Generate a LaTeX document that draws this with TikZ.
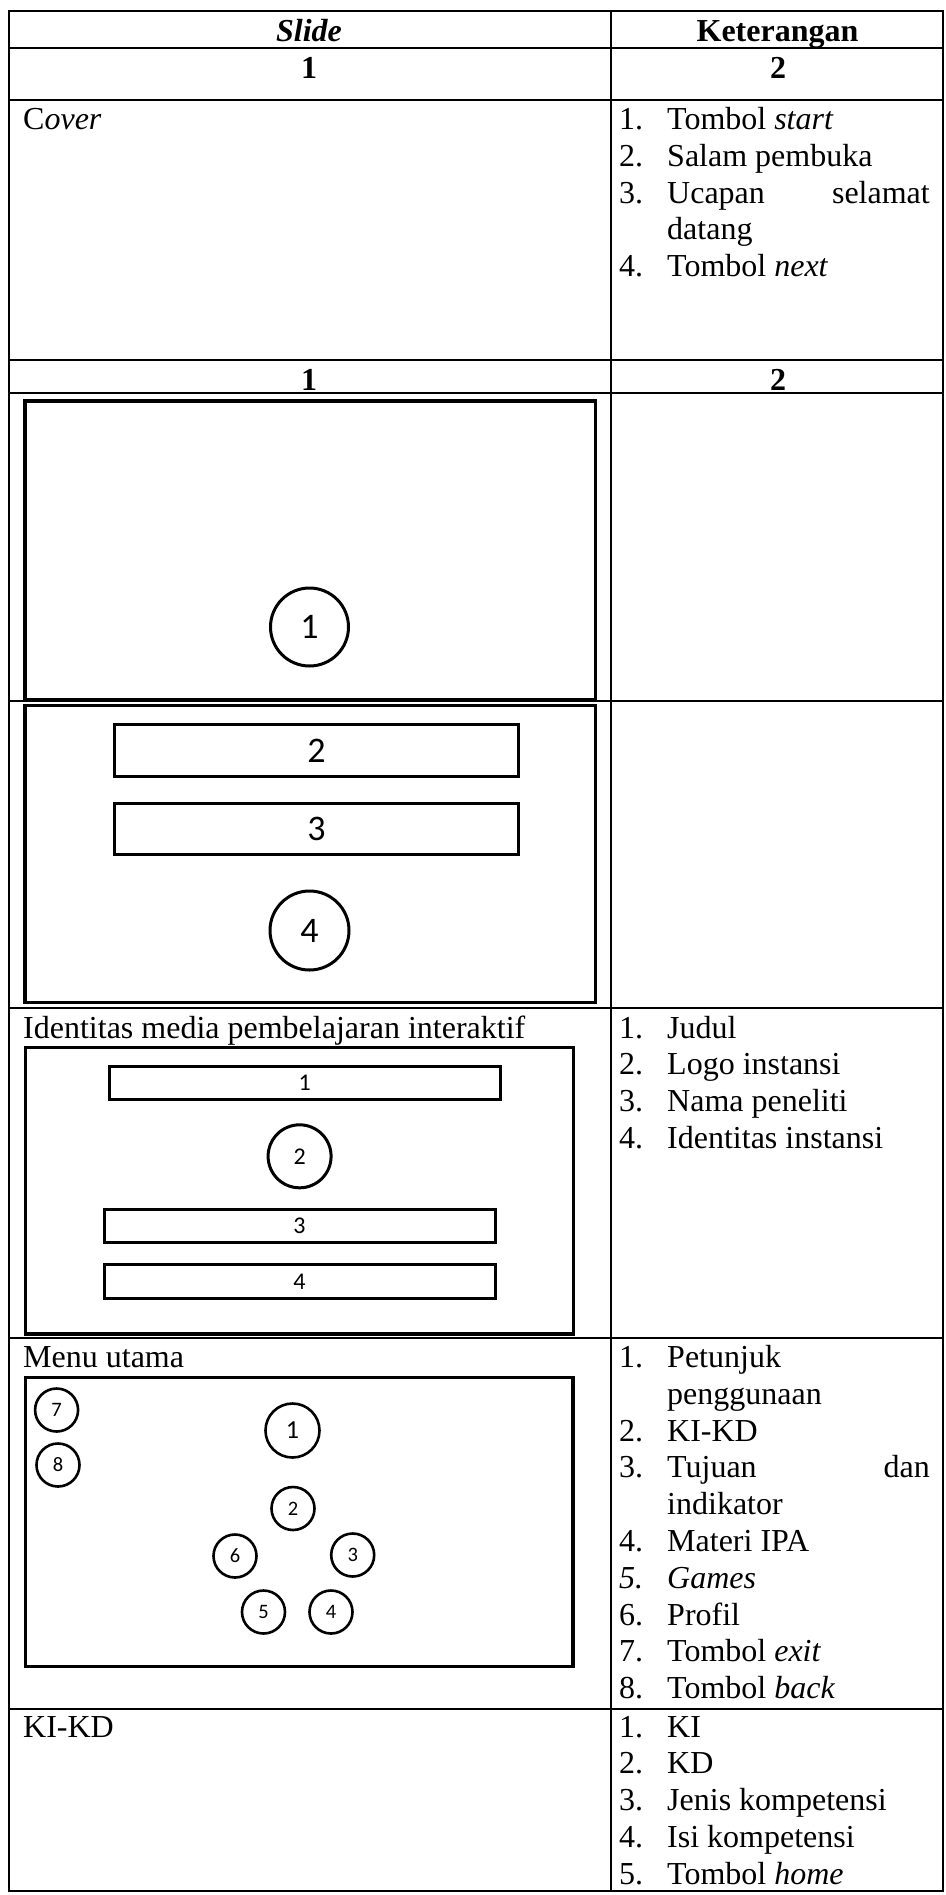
\documentclass[tikz,border=0pt]{standalone}
\usepackage{fontspec}
\setmainfont{Liberation Serif}
\newfontfamily\shapefont{Carlito}
\begin{document}
\begin{tikzpicture}[x=1pt,y=-1pt,
  rule/.style={line width=1.8pt},
  body/.style={inner sep=0pt,font=\fontsize{32}{36.8}\selectfont},
  cell/.style={body,anchor=base west},
  flush/.style={body,anchor=base east},
  head/.style={inner sep=0pt,anchor=base,font=\fontsize{32}{36.8}\selectfont\bfseries},
  screen/.style={draw,line width=3.4pt,inner sep=0pt},
  bar/.style={draw,line width=3pt,inner sep=0pt},
  btn/.style={draw,circle,line width=3pt,inner sep=0pt},
  tiny/.style={draw,circle,line width=2.6pt,inner sep=0pt,minimum size=43pt,
    font=\shapefont\fontsize{20.5}{20.5}\selectfont},
  big/.style={font=\shapefont\fontsize{36}{36}\selectfont},
  mid/.style={font=\shapefont\fontsize{24}{24}\selectfont}
]
\useasboundingbox (0,0) rectangle (945,1895);

% table rules
\draw[rule] (9,11) rectangle (943,1891);
\draw[rule] (611,11) -- (611,1891);
\foreach \y in {48,100,360,393,701,1008,1338,1709}
  \draw[rule] (9,\y) -- (943,\y);

% header rows
\node[head] (hslide) at (309,41) {\textit{Slide}};
\node[head] (hket) at (777.5,41) {Keterangan};
\node[head] (numa) at (309,78) {1};
\node[head] (numb) at (778,78) {2};
\node[head] (numc) at (309,390) {1};
\node[head] (numd) at (778,390) {2};

% cover row
\node[cell] (cover) at (23,129.5) {C\textit{over}};
\node[cell] (cv1) at (619,129.5) {\makebox[48pt][l]{1.}Tombol \textit{start}};
\node[cell] (cv2) at (619,166.3) {\makebox[48pt][l]{2.}Salam pembuka};
\node[cell] (cv3) at (619,203.1) {\makebox[48pt][l]{3.}Ucapan};
\node[flush] (cv3b) at (930,203.1) {selamat};
\node[cell] (cv3c) at (667,239.9) {datang};
\node[cell] (cv4) at (619,276.7) {\makebox[48pt][l]{4.}Tombol \textit{next}};

% cover screens
\node[screen,minimum width=570.5pt,minimum height=298.5pt] (scrA) at (310.25,550.25) {};
\node[btn,big,minimum size=78pt] (startbtn) at (309.5,627) {1};
\node[screen,minimum width=570.5pt,minimum height=297pt] (scrB) at (310.25,854) {};
\node[bar,big,minimum width=404pt,minimum height=52pt] (greet) at (316.5,750.5) {2};
\node[bar,big,minimum width=404pt,minimum height=51pt] (welcome) at (316.5,829) {3};
\node[btn,big,minimum size=79pt] (nextbtn) at (309.5,930.5) {4};

% identity row
\node[cell] (ident) at (23,1038) {Identitas media pembelajaran interaktif};
\node[cell] (id1) at (619,1038) {\makebox[48pt][l]{1.}Judul};
\node[cell] (id2) at (619,1074.8) {\makebox[48pt][l]{2.}Logo instansi};
\node[cell] (id3) at (619,1111.6) {\makebox[48pt][l]{3.}Nama peneliti};
\node[cell] (id4) at (619,1148.4) {\makebox[48pt][l]{4.}Identitas instansi};
\node[screen,minimum width=548pt,minimum height=286.5pt] (scrC) at (299.5,1190.75) {};
\node[bar,mid,minimum width=390.5pt,minimum height=33pt] (title) at (304.75,1083) {1};
\node[btn,mid,minimum size=63pt] (logo) at (299.6,1156.3) {2};
\node[bar,mid,minimum width=391pt,minimum height=33pt] (author) at (299.5,1226) {3};
\node[bar,mid,minimum width=391pt,minimum height=34pt] (inst) at (299.5,1281.5) {4};

% main menu row
\node[cell] (menu) at (23,1367.5) {Menu utama};
\node[cell] (mn1) at (619,1367.5) {\makebox[48pt][l]{1.}Petunjuk};
\node[cell] (mn1b) at (667,1404.3) {penggunaan};
\node[cell] (mn2) at (619,1441.1) {\makebox[48pt][l]{2.}KI-KD};
\node[cell] (mn3) at (619,1477.9) {\makebox[48pt][l]{3.}Tujuan};
\node[flush] (mn3b) at (930,1477.9) {dan};
\node[cell] (mn3c) at (667,1514.7) {indikator};
\node[cell] (mn4) at (619,1551.5) {\makebox[48pt][l]{4.}Materi IPA};
\node[cell] (mn5) at (619,1588.3) {\itshape\makebox[48pt][l]{5.}Games};
\node[cell] (mn6) at (619,1625.1) {\makebox[48pt][l]{6.}Profil};
\node[cell] (mn7) at (619,1661.9) {\makebox[48pt][l]{7.}Tombol \textit{exit}};
\node[cell] (mn8) at (619,1698.7) {\makebox[48pt][l]{8.}Tombol \textit{back}};
\node[screen,minimum width=547.4pt,minimum height=289pt] (scrD) at (299.2,1522) {};
\node[tiny] (bexit) at (56.6,1410) {7};
\node[tiny] (bback) at (58,1465) {8};
\node[tiny,minimum size=54pt,font=\shapefont\fontsize{26}{26}\selectfont] (bguide) at (292.5,1430.5) {1};
\node[tiny] (bkikd) at (293,1508.5) {2};
\node[tiny] (bgoal) at (352.7,1555) {3};
\node[tiny] (bipa) at (331,1612) {4};
\node[tiny] (bgame) at (263.5,1612) {5};
\node[tiny] (bprof) at (235,1556) {6};

% KI-KD row
\node[cell] (kikd) at (23,1737) {KI-KD};
\node[cell] (kk1) at (619,1737) {\makebox[48pt][l]{1.}KI};
\node[cell] (kk2) at (619,1773.8) {\makebox[48pt][l]{2.}KD};
\node[cell] (kk3) at (619,1810.6) {\makebox[48pt][l]{3.}Jenis kompetensi};
\node[cell] (kk4) at (619,1847.4) {\makebox[48pt][l]{4.}Isi kompetensi};
\node[cell] (kk5) at (619,1884.2) {\makebox[48pt][l]{5.}Tombol \textit{home}};
\end{tikzpicture}
\end{document}
